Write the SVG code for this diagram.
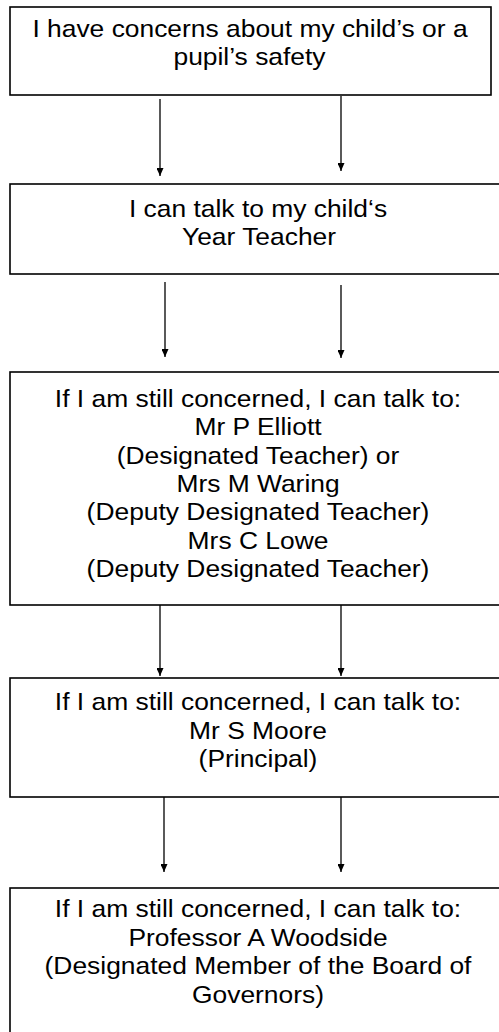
<svg xmlns="http://www.w3.org/2000/svg" width="499" height="1032" viewBox="0 0 499 1032">
<style>
.box{fill:#fff;stroke:#000;stroke-width:1.6}
.t{font-family:"Liberation Sans",Arial,sans-serif;font-size:24px;fill:#000;text-anchor:middle}
.c{stroke:#000;stroke-width:1.3;fill:none;marker-end:url(#ah)}
</style>
<defs>
<marker id="ah" markerUnits="userSpaceOnUse" markerWidth="9" markerHeight="7" refX="8" refY="3.5" orient="auto">
<path d="M0,0 L8,3.5 L0,7 z" fill="#000"/>
</marker>
</defs>
<rect width="499" height="1032" fill="#fff"/>
<g id="connectors">
<line class="c" x1="160" y1="99" x2="160" y2="176"/>
<line class="c" x1="341" y1="96" x2="341" y2="171"/>
<line class="c" x1="165" y1="282" x2="165" y2="357"/>
<line class="c" x1="341" y1="285" x2="341" y2="358"/>
<line class="c" x1="160" y1="603" x2="160" y2="676"/>
<line class="c" x1="341" y1="603" x2="341" y2="676"/>
<line class="c" x1="164" y1="797" x2="164" y2="872"/>
<line class="c" x1="341" y1="797" x2="341" y2="872"/>
</g>
<g id="n1">
<rect class="box" x="10" y="7" width="481" height="88"/>
<text class="t" transform="translate(250 37) scale(1.1 1)">I have concerns about my child’s or a</text>
<text class="t" transform="translate(249.5 65) scale(1.1 1)">pupil’s safety</text>
</g>
<g id="n2">
<rect class="box" x="10" y="184" width="500" height="90"/>
<text class="t" transform="translate(258 217) scale(1.1 1)">I can talk to my child‘s</text>
<text class="t" transform="translate(259 245) scale(1.1 1)">Year Teacher</text>
</g>
<g id="n3">
<rect class="box" x="10" y="372" width="500" height="233"/>
<text class="t" transform="translate(258 407) scale(1.1 1)">If I am still concerned, I can talk to:</text>
<text class="t" transform="translate(258 435.3) scale(1.1 1)">Mr P Elliott</text>
<text class="t" transform="translate(258 463.6) scale(1.1 1)">(Designated Teacher) or</text>
<text class="t" transform="translate(258 491.9) scale(1.1 1)">Mrs M Waring</text>
<text class="t" transform="translate(258 520.2) scale(1.1 1)">(Deputy Designated Teacher)</text>
<text class="t" transform="translate(258 548.5) scale(1.1 1)">Mrs C Lowe</text>
<text class="t" transform="translate(258 576.8) scale(1.1 1)">(Deputy Designated Teacher)</text>
</g>
<g id="n4">
<rect class="box" x="10" y="678" width="500" height="119"/>
<text class="t" transform="translate(258 710) scale(1.1 1)">If I am still concerned, I can talk to:</text>
<text class="t" transform="translate(258 738.5) scale(1.1 1)">Mr S Moore</text>
<text class="t" transform="translate(258 767) scale(1.1 1)">(Principal)</text>
</g>
<g id="n5">
<rect class="box" x="10" y="888" width="500" height="160"/>
<text class="t" transform="translate(258 917) scale(1.1 1)">If I am still concerned, I can talk to:</text>
<text class="t" transform="translate(258 945.5) scale(1.1 1)">Professor A Woodside</text>
<text class="t" transform="translate(258 974) scale(1.1 1)">(Designated Member of the Board of</text>
<text class="t" transform="translate(258 1002.5) scale(1.1 1)">Governors)</text>
</g>
</svg>
